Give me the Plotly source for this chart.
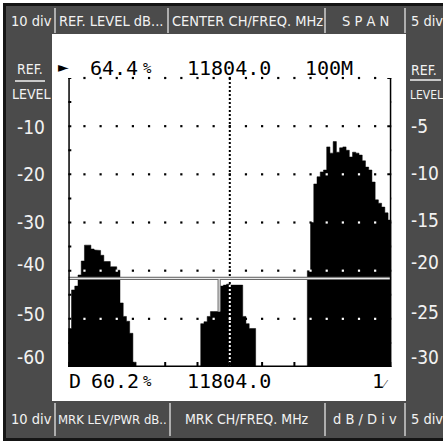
import plotly.graph_objects as go

FIG_W, FIG_H = 443, 441

# ---------------- data ----------------
FLOOR_DB = -60
REF_DB = 0
CENTER_MHZ = 11804
SPAN_MHZ = 100
F_START = CENTER_MHZ - SPAN_MHZ / 2
F_STOP = CENTER_MHZ + SPAN_MHZ / 2
BIN_MHZ = 1

# trace levels (dB rel. ref level), 1 MHz bins, three signal groups
left_start = 11754
left_db = [-52, -44, -43.2, -40.9, -38, -34.7, -34.7, -35.5, -35.7, -35.8, -36.8,
           -38.1, -38.1, -39.2, -39.2, -39.9, -46.7, -49.5, -50.5, -53, -59]
center_start = 11795
center_db = [-51, -50.6, -49.5, -48.5, -48.5, -48.5, -43.2, -43, -42.8, -43, -43,
             -43, -43, -49.5, -51, -52, -52]
right_start = 11828
right_db = [-40, -30, -22, -20.5, -19.5, -19.1, -14.3, -15.6, -13.2, -15.4, -14.5,
            -14.3, -15, -16.4, -15.4, -15.6, -16, -17.2, -18.5, -19.1, -21.6, -25.3,
            -26, -26.8, -28, -29.5]

marker_freq = 11800.7
marker_level = -41.6

grid_rows = [0, -10, -20, -30, -40, -50]
left_scale = ["-10", "-20", "-30", "-40", "-50", "-60"]
right_scale = ["-5", "-10", "-15", "-20", "-25", "-30"]
top_readout = {"ref": "64.4", "freq": "11804.0", "span": "100M"}
bottom_readout = {"mode": "D", "lev": "60.2", "freq": "11804.0", "div": "1"}
header_labels = ["10 div", "REF. LEVEL dB...", "CENTER CH/FREQ. MHz", "S P A N", "5 div"]
footer_labels = ["10 div", "MRK LEV/PWR dB..", "MRK CH/FREQ. MHz", "d B / D i v", "5 div"]

segments = [(left_start, left_db), (center_start, center_db), (right_start, right_db)]

# ---------------- helpers ----------------
spectrum = {}
for start, vals in segments:
    for i, v in enumerate(vals):
        spectrum[start + i * BIN_MHZ] = v


def spec_at(f):
    return spectrum.get(int(f), FLOOR_DB - 1)


def px(x):
    return x / FIG_W


def py(y):
    return 1 - y / FIG_H


GRAY = "#4b4b4b"
LIGHT = "#f2f2f2"
SEP = "#cfcfcf"
MONO = "DejaVu Sans Mono"
NARROW = "DejaVu Sans Condensed, Liberation Sans Narrow, sans-serif"

shapes = []
annotations = []


def rect(x0, y0, x1, y1, color, layer="below"):
    shapes.append(dict(type="rect", xref="paper", yref="paper", x0=px(x0), x1=px(x1),
                       y0=py(y1), y1=py(y0), fillcolor=color, line=dict(width=0), layer=layer))


def pline(x0, y0, x1, y1, color, width, layer="above"):
    shapes.append(dict(type="line", xref="paper", yref="paper", x0=px(x0), x1=px(x1),
                       y0=py(y0), y1=py(y1), line=dict(color=color, width=width), layer=layer))


def text(x, y, s, size, color="black", family=MONO, anchor="center"):
    annotations.append(dict(x=px(x), y=py(y), xref="paper", yref="paper", text=s,
                            showarrow=False, xanchor=anchor, yanchor="middle",
                            font=dict(size=size, color=color, family=family)))


# ---------------- frame ----------------
rect(3, 3, 443, 441, "#151515")
rect(6, 6, 443, 438, GRAY)
rect(52, 34, 406, 401, "white")
for x in (55, 168, 325, 405):
    pline(x, 8, x, 33, SEP, 1.5)
for x in (55, 170, 325, 405):
    pline(x, 403, x, 436, SEP, 1.5)

header_x = [31, 111, 247, 365, 409]
footer_x = [31, 112, 247, 365, 409]
header_sizes = [14.5, 14.5, 14.5, 14.5, 14.5]
footer_sizes = [14.5, 13, 14, 14.5, 14.5]
for i, (lab, x, s) in enumerate(zip(header_labels, header_x, header_sizes)):
    text(x, 21, lab, s, LIGHT, NARROW, "left" if i == 4 else "center")
for i, (lab, x, s) in enumerate(zip(footer_labels, footer_x, footer_sizes)):
    text(x, 419, lab, s, LIGHT, NARROW, "left" if i == 4 else "center")

# side scales
text(30, 69, "REF.", 14, LIGHT, NARROW)
pline(15, 81, 45, 81, LIGHT, 1.5)
text(31, 94, "LEVEL", 14, LIGHT, NARROW)
text(409, 70, "REF.", 14, LIGHT, NARROW, "left")
pline(410, 80, 441, 80, LIGHT, 1.5)
text(408, 95, "LEVEL", 12, LIGHT, NARROW, "left")
left_label_y = [127, 173.5, 221.5, 264, 314, 357]
for lab, y in zip(left_scale, left_label_y):
    text(47, y, lab, 19, LIGHT, NARROW, "right")
right_label_y = [126, 173, 220, 262, 312, 357]
for lab, y in zip(right_scale, right_label_y):
    text(409, y, lab, 19, LIGHT, NARROW, "left")

# ---------------- figure ----------------
fig = go.Figure()
for start, vals in segments:
    sx, sy = [start], [FLOOR_DB]
    for i, v in enumerate(vals):
        f0 = start + i * BIN_MHZ
        sx += [f0, f0 + BIN_MHZ]
        sy += [v, v]
    sx.append(start + len(vals) * BIN_MHZ)
    sy.append(FLOOR_DB)
    fig.add_trace(go.Scatter(x=sx, y=sy, mode="lines", fill="toself", fillcolor="black",
                             line=dict(color="black", width=0.5), hoverinfo="skip"))

# dotted graticule rows (inverted over the trace)
dot_f = list(range(int(F_START) + 5, int(F_STOP), 5))
dx, dy, dc = [], [], []
for r in grid_rows:
    for f in dot_f:
        dx.append(f)
        dy.append(r)
        dc.append("white" if spec_at(f) > r else "black")
fig.add_trace(go.Scatter(x=dx, y=dy, mode="markers", cliponaxis=False, hoverinfo="skip",
                         marker=dict(symbol="square", size=2.2, color=dc, line=dict(width=0))))

# centre dotted line
c_lev = spec_at(CENTER_MHZ)
shapes.append(dict(type="line", xref="x", yref="y", x0=CENTER_MHZ, x1=CENTER_MHZ, y0=REF_DB,
                   y1=c_lev, line=dict(color="black", width=2, dash="2px,2px"), layer="above"))
shapes.append(dict(type="line", xref="x", yref="y", x0=CENTER_MHZ, x1=CENTER_MHZ, y0=c_lev,
                   y1=FLOOR_DB, line=dict(color="white", width=2, dash="2px,2px"), layer="above"))

# marker cross
m_lev = spec_at(marker_freq)
for col, w in (("#6a6a6a", 3.2), ("white", 1)):
    shapes.append(dict(type="line", xref="x", yref="y", x0=F_START, x1=F_STOP, y0=marker_level,
                       y1=marker_level, line=dict(color=col, width=w), layer="above"))
    shapes.append(dict(type="line", xref="x", yref="y", x0=marker_freq, x1=marker_freq,
                       y0=marker_level, y1=m_lev, line=dict(color=col, width=w), layer="above"))

# axes
for xa in (F_START, F_STOP):
    shapes.append(dict(type="line", xref="x", yref="y", x0=xa, x1=xa, y0=FLOOR_DB, y1=REF_DB,
                       line=dict(color="black", width=3), layer="above"))
shapes.append(dict(type="line", xref="x", yref="y", x0=F_START, x1=F_STOP, y0=FLOOR_DB,
                   y1=FLOOR_DB, line=dict(color="black", width=3), layer="above"))
for v in range(REF_DB, FLOOR_DB - 1, -5):
    major = v % 10 == 0
    shapes.append(dict(type="line", xref="x", yref="y", xsizemode="pixel", xanchor=F_START,
                       x0=-8, x1=3, y0=v, y1=v, line=dict(color="black", width=2), layer="above"))
    shapes.append(dict(type="line", xref="x", yref="y", xsizemode="pixel", xanchor=F_STOP,
                       x0=-4 if major else 0, x1=8, y0=v, y1=v,
                       line=dict(color="black", width=2), layer="above"))
for f in range(int(F_START), int(F_STOP) + 1, 10):
    shapes.append(dict(type="line", xref="x", yref="y", ysizemode="pixel", yanchor=FLOOR_DB,
                       y0=-5, y1=5, x0=f, x1=f, line=dict(color="black", width=2), layer="above"))

# readouts
text(63, 67, "►", 14, "black", "DejaVu Sans")
text(114, 68, top_readout["ref"], 20)
text(147, 68, "%", 14)
text(229, 68, top_readout["freq"], 20)
text(329, 68, top_readout["span"], 20)
text(75, 381, bottom_readout["mode"], 20)
text(115, 381, bottom_readout["lev"], 20)
text(147, 381, "%", 14)
text(229, 381, bottom_readout["freq"], 20)
text(380, 381, bottom_readout["div"] + "<span style='font-size:12px'>⁄</span>", 20)

fig.update_layout(
    width=FIG_W, height=FIG_H, margin=dict(l=0, r=0, t=0, b=0),
    paper_bgcolor="white", plot_bgcolor="rgba(0,0,0,0)", showlegend=False,
    xaxis=dict(range=[F_START, F_STOP], domain=[68.3 / FIG_W, 391.3 / FIG_W], visible=False,
               fixedrange=True),
    yaxis=dict(range=[FLOOR_DB, REF_DB], domain=[(FIG_H - 367) / FIG_H, (FIG_H - 78) / FIG_H],
               visible=False, fixedrange=True),
    shapes=shapes, annotations=annotations,
)
fig.write_html("out.html", config={"displayModeBar": False},
               post_script="document.body.style.margin='0';document.body.style.padding='0';"
                           "document.body.style.overflow='hidden';")
